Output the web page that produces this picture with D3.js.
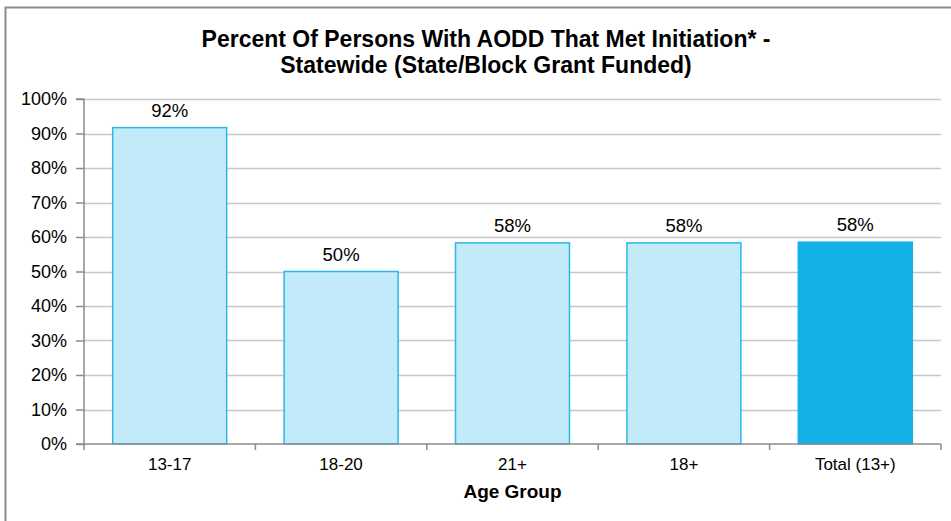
<!DOCTYPE html>
<html>
<head>
<meta charset="utf-8">
<script src="https://cdn.jsdelivr.net/npm/d3@7"></script>
<style>
  html, body { margin: 0; padding: 0; background: #fff; }
  svg { display: block; }
  text { font-family: "Liberation Sans", Arial, sans-serif; fill: #000; }
</style>
</head>
<body>
<svg id="chart" width="951" height="521"></svg>
<script>
const categories = ["13-17", "18-20", "21+", "18+", "Total (13+)"];
const values = [91.7, 50.0, 58.3, 58.3, 58.5];
const labels = ["92%", "50%", "58%", "58%", "58%"];
const yTicks = [0, 10, 20, 30, 40, 50, 60, 70, 80, 90, 100];
const titleLines = ["Percent Of Persons With AODD That Met Initiation* -", "Statewide (State/Block Grant Funded)"];
const xTitle = "Age Group";

const svg = d3.select("#chart");
const W = 951, H = 521;
const m = { left: 84, right: 10, top: 99, bottom: 77 };
const x0 = m.left, x1 = W - m.right, y0 = H - m.bottom, y1 = m.top;

// outer border
svg.append("path")
  .attr("d", `M5.5,${H + 5} L5.5,7.5 L${W + 5},7.5`)
  .attr("fill", "none").attr("stroke", "#8c8c8c").attr("stroke-width", 2);

const x = d3.scaleBand().domain(categories).range([x0, x1]).paddingInner(0.335).paddingOuter(0.1675);
const y = d3.scaleLinear().domain([0, 100]).range([y0, y1]);

// gridlines
svg.append("g").selectAll("line").data(yTicks.filter(d => d > 0)).join("line")
  .attr("x1", x0).attr("x2", x1)
  .attr("y1", d => Math.round(y(d)) + 0.5).attr("y2", d => Math.round(y(d)) + 0.5)
  .attr("stroke", "#c8c8c8").attr("stroke-width", 1.5);

// bars
svg.append("g").selectAll("rect").data(categories).join("rect")
  .attr("x", d => x(d))
  .attr("y", (d, i) => y(values[i]))
  .attr("width", x.bandwidth())
  .attr("height", (d, i) => y0 - y(values[i]))
  .attr("fill", (d, i) => i === categories.length - 1 ? "#14b1e7" : "#c3eaf9")
  .attr("stroke", (d, i) => i === categories.length - 1 ? "#14b1e7" : "#2bb8e9")
  .attr("stroke-width", 1.5);

// value labels
svg.append("g").selectAll("text").data(categories).join("text")
  .attr("x", d => x(d) + x.bandwidth() / 2)
  .attr("y", (d, i) => y(values[i]) - 11)
  .attr("text-anchor", "middle")
  .style("font-size", "18.5px")
  .text((d, i) => labels[i]);

// y axis
const yAxis = d3.axisLeft(y).tickValues(yTicks).tickFormat(d => d + "%").tickSize(8).tickPadding(9);
const gy = svg.append("g").attr("transform", `translate(${x0},0)`).call(yAxis);
gy.select(".domain").attr("stroke", "#8c8c8c").attr("stroke-width", 1.5).attr("d", `M-8,${y1}H0V${y0}`);
gy.selectAll(".tick line").attr("stroke", "#8c8c8c").attr("stroke-width", 1.5);
gy.selectAll(".tick text").style("font-size", "18px").style("font-family", "'Liberation Sans', Arial, sans-serif").attr("fill", "#000");

// x axis
const edges = d3.range(categories.length + 1).map(i => x0 + (x1 - x0) * i / categories.length);
const gx = svg.append("g");
gx.append("line").attr("x1", x0 - 8).attr("x2", x1).attr("y1", y0).attr("y2", y0)
  .attr("stroke", "#8c8c8c").attr("stroke-width", 1.5);
gx.selectAll("line.tk").data(edges).join("line").attr("class", "tk")
  .attr("x1", d => d).attr("x2", d => d).attr("y1", y0).attr("y2", y0 + 6)
  .attr("stroke", "#8c8c8c").attr("stroke-width", 1.5);
gx.selectAll("text").data(categories).join("text")
  .attr("x", d => x(d) + x.bandwidth() / 2)
  .attr("y", y0 + 26)
  .attr("text-anchor", "middle")
  .style("font-size", "17px")
  .text(d => d);

// x title
svg.append("text")
  .attr("x", (x0 + x1) / 2).attr("y", 498)
  .attr("text-anchor", "middle")
  .style("font-size", "19px").style("font-weight", "bold")
  .text(xTitle);

// title
svg.append("g").selectAll("text").data(titleLines).join("text")
  .attr("x", 486).attr("y", (d, i) => 47 + i * 26)
  .attr("text-anchor", "middle")
  .style("font-size", "23px").style("font-weight", "bold")
  .text(d => d);
</script>
</body>
</html>
